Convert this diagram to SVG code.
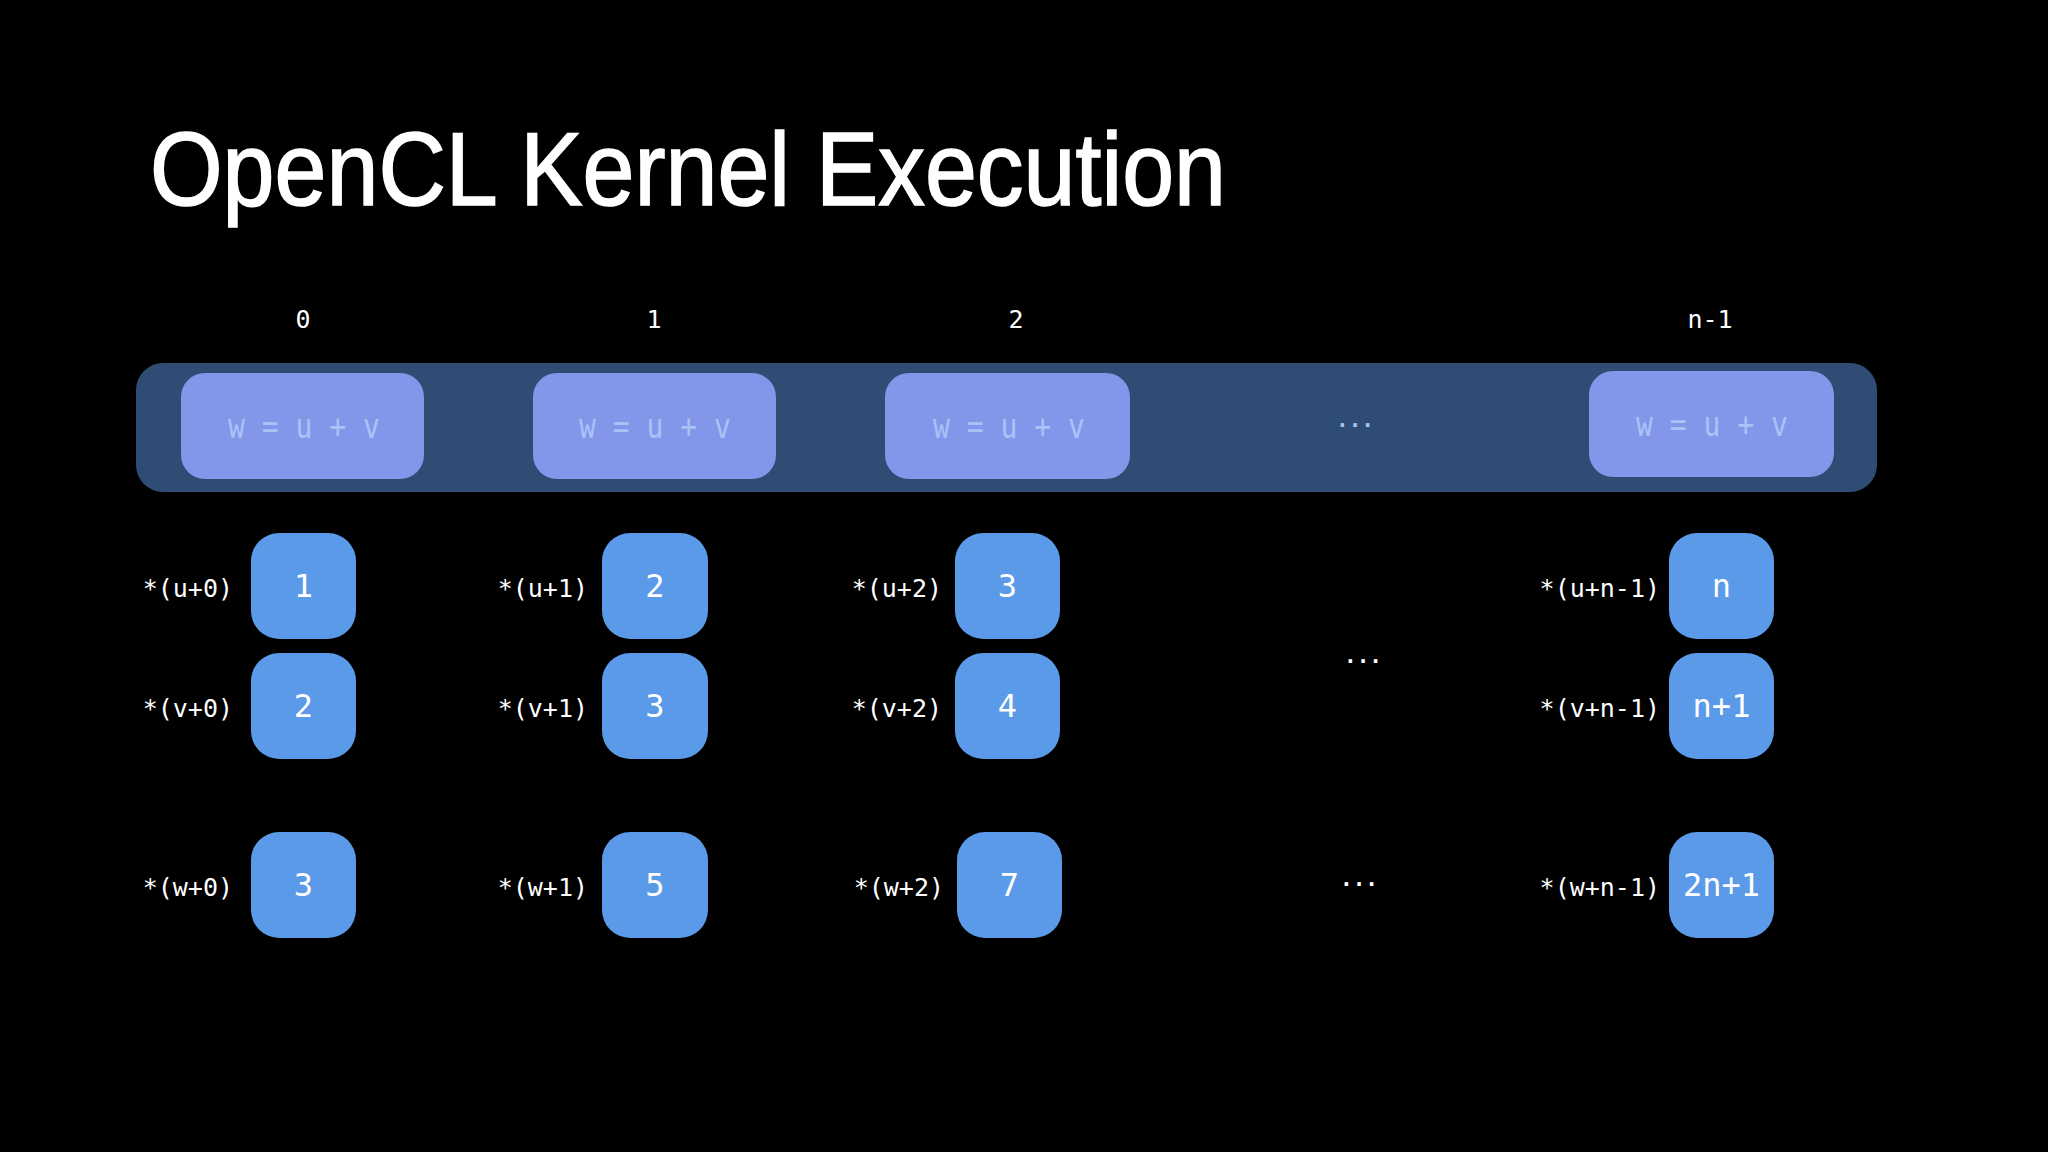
<svg xmlns="http://www.w3.org/2000/svg" width="2048" height="1152" viewBox="0 0 2048 1152">
<style>
.title{font-family:"Liberation Sans",Arial,sans-serif;font-size:103px;fill:#ffffff;stroke:#ffffff;stroke-width:1.6px}
.mono{font-family:"DejaVu Sans Mono","Liberation Mono",monospace}
.idx{font-size:25px;fill:#ffffff;text-anchor:middle}
.panel{fill:#2f4d74}
.kbox{fill:#8496ea}
.ktxt{font-size:34px;fill:#a8c4f6;text-anchor:middle}
.cell{fill:#5b9ae8}
.num{font-size:32px;fill:#ffffff;text-anchor:middle}
.lbl{font-size:25px;fill:#ffffff;text-anchor:end}
.dots{font-size:21px;text-anchor:middle;font-weight:bold}
</style>
<rect x="0" y="0" width="2048" height="1152" fill="#000000"/>
<text class="title" x="150" y="205" textLength="1076" lengthAdjust="spacingAndGlyphs">OpenCL Kernel Execution</text>

<g id="indices" class="mono">
<text class="idx" x="303" y="328">0</text>
<text class="idx" x="654" y="328">1</text>
<text class="idx" x="1016" y="328">2</text>
<text class="idx" x="1710" y="328">n-1</text>
</g>

<g id="work-items">
<rect class="panel" x="136" y="363" width="1741" height="129" rx="27"/>
<g id="wi0"><rect class="kbox" x="181" y="373" width="243" height="106" rx="24"/><text class="mono ktxt" x="304" y="438" textLength="152" lengthAdjust="spacingAndGlyphs">w = u + v</text></g>
<g id="wi1"><rect class="kbox" x="533" y="373" width="243" height="106" rx="24"/><text class="mono ktxt" x="655" y="438" textLength="152" lengthAdjust="spacingAndGlyphs">w = u + v</text></g>
<g id="wi2"><rect class="kbox" x="885" y="373" width="245" height="106" rx="24"/><text class="mono ktxt" x="1009" y="438" textLength="152" lengthAdjust="spacingAndGlyphs">w = u + v</text></g>
<text class="mono dots" x="1355" y="427" fill="#a8c4f6">...</text>
<g id="wi3"><rect class="kbox" x="1589" y="371" width="245" height="106" rx="24"/><text class="mono ktxt" x="1712" y="436" textLength="152" lengthAdjust="spacingAndGlyphs">w = u + v</text></g>
</g>

<g id="connectors"></g>

<g id="col0" class="mono">
<text class="lbl" x="233" y="597">*(u+0)</text>
<rect class="cell" x="251" y="533" width="105" height="106" rx="28"/><text class="num" x="303.5" y="597">1</text>
<text class="lbl" x="233" y="717">*(v+0)</text>
<rect class="cell" x="251" y="653" width="105" height="106" rx="28"/><text class="num" x="303.5" y="717">2</text>
<text class="lbl" x="233" y="896">*(w+0)</text>
<rect class="cell" x="251" y="832" width="105" height="106" rx="28"/><text class="num" x="303.5" y="896">3</text>
</g>

<g id="col1" class="mono">
<text class="lbl" x="588" y="597">*(u+1)</text>
<rect class="cell" x="602" y="533" width="106" height="106" rx="28"/><text class="num" x="655" y="597">2</text>
<text class="lbl" x="588" y="717">*(v+1)</text>
<rect class="cell" x="602" y="653" width="106" height="106" rx="28"/><text class="num" x="655" y="717">3</text>
<text class="lbl" x="588" y="896">*(w+1)</text>
<rect class="cell" x="602" y="832" width="106" height="106" rx="28"/><text class="num" x="655" y="896">5</text>
</g>

<g id="col2" class="mono">
<text class="lbl" x="942" y="597">*(u+2)</text>
<rect class="cell" x="955" y="533" width="105" height="106" rx="28"/><text class="num" x="1007.5" y="597">3</text>
<text class="lbl" x="942" y="717">*(v+2)</text>
<rect class="cell" x="955" y="653" width="105" height="106" rx="28"/><text class="num" x="1007.5" y="717">4</text>
<text class="lbl" x="944" y="896">*(w+2)</text>
<rect class="cell" x="957" y="832" width="105" height="106" rx="28"/><text class="num" x="1009.5" y="896">7</text>
</g>

<g id="ellipses" class="mono">
<text class="dots" x="1363" y="663" fill="#ffffff">...</text>
<text class="dots" x="1359" y="886" fill="#ffffff">...</text>
</g>

<g id="col3" class="mono">
<text class="lbl" x="1660" y="597">*(u+n-1)</text>
<rect class="cell" x="1669" y="533" width="105" height="106" rx="28"/><text class="num" x="1721.5" y="597">n</text>
<text class="lbl" x="1660" y="717">*(v+n-1)</text>
<rect class="cell" x="1669" y="653" width="105" height="106" rx="28"/><text class="num" x="1721.5" y="717">n+1</text>
<text class="lbl" x="1660" y="896">*(w+n-1)</text>
<rect class="cell" x="1669" y="832" width="105" height="106" rx="28"/><text class="num" x="1721.5" y="896">2n+1</text>
</g>
</svg>
